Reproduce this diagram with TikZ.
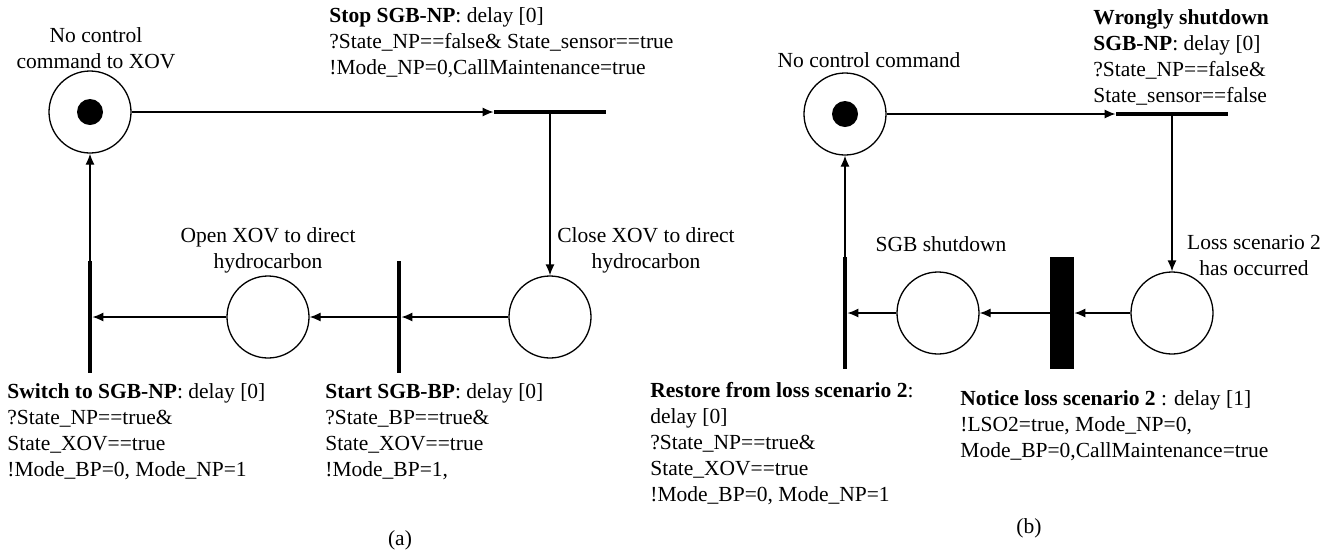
\documentclass[tikz,border=0pt]{standalone}
\usepackage{fontspec}
\setmainfont{Liberation Serif}
\usetikzlibrary{arrows.meta,positioning}

\begin{document}
\begin{tikzpicture}[x=0.5pt,y=-0.5pt,
    font=\fontsize{10.75pt}{13pt}\selectfont,
    pnplace/.style={circle,draw,line width=0.65pt,minimum size=41pt,inner sep=0pt},
    pntoken/.style={circle,fill=black,minimum size=13pt,inner sep=0pt},
    hbar/.style={rectangle,fill=black,minimum width=56pt,minimum height=2pt,inner sep=0pt},
    vbar/.style={rectangle,fill=black,minimum width=2pt,minimum height=56pt,inner sep=0pt},
    wbar/.style={rectangle,fill=black,minimum width=12pt,minimum height=56pt,inner sep=0pt},
    flow/.style={line width=0.65pt,-{Latex[length=5.5pt,width=4.5pt]}},
    txt/.style={inner sep=0pt,align=left,anchor=north west},
    ctxt/.style={inner sep=0pt,align=center}]
    \useasboundingbox (0,0) rectangle (1333,553);

    % (a) switching between SGB-NP and SGB-BP
    \node[pnplace] (p1) at (90,112) {};
    \node[pntoken] (k1) at (p1) {};
    \node[hbar] (t1) at (550,112) {};
    \node[pnplace] (p2) at (550,317) {};
    \node[vbar] (t2) at (399,317) {};
    \node[pnplace] (p3) at (268,317) {};
    \node[vbar] (t3) at (90,317) {};

    \draw[flow] (p1) -- (t1);
    \draw[flow] (t1) -- (p2);
    \draw[flow] (p2) -- (t2);
    \draw[flow] (t2) -- (p3);
    \draw[flow] (p3) -- (t3);
    \draw[flow] (t3) -- (p1);

    \node[ctxt] (lp1) at (96,48) {No control\\command to XOV};
    \node[txt] (lt1) at (329,7) {\textbf{Stop SGB-NP}: delay [0]\\?State\_NP==false\& State\_sensor==true\\!Mode\_NP=0,CallMaintenance=true};
    \node[ctxt] (lp2) at (646,250) {Close XOV to direct\\hydrocarbon};
    \node[ctxt] (lp3) at (268,250) {Open XOV to direct\\hydrocarbon};
    \node[txt] (lt3) at (7,383) {\textbf{Switch to SGB-NP}: delay [0]\\?State\_NP==true\&\\State\_XOV==true\\!Mode\_BP=0, Mode\_NP=1};
    \node[txt] (lt2) at (325,383) {\textbf{Start SGB-BP}: delay [0]\\?State\_BP==true\&\\State\_XOV==true\\!Mode\_BP=1,};
    \node (capa) at (400,540) {(a)};

    % (b) loss scenario 2
    \node[pnplace] (p4) at (845,114) {};
    \node[pntoken] (k4) at (p4) {};
    \node[hbar] (t4) at (1172,114) {};
    \node[pnplace] (p5) at (1172,313) {};
    \node[wbar] (t5) at (1062,313) {};
    \node[pnplace] (p6) at (938,313) {};
    \node[vbar] (t6) at (845,313) {};

    \draw[flow] (p4) -- (t4);
    \draw[flow] (t4) -- (p5);
    \draw[flow] (p5) -- (t5);
    \draw[flow] (t5) -- (p6);
    \draw[flow] (p6) -- (t6);
    \draw[flow] (t6) -- (p4);

    \node[ctxt] (lp4) at (869,60) {No control command};
    \node[txt] (lt4) at (1093,9) {\textbf{Wrongly shutdown}\\\textbf{SGB-NP}: delay [0]\\?State\_NP==false\&\\State\_sensor==false};
    \node[ctxt] (lp5) at (1254,255) {Loss scenario 2\\has occurred};
    \node[ctxt] (lp6) at (941,244) {SGB shutdown};
    \node[txt] (lt6) at (650,382) {\textbf{Restore from loss scenario 2}:\\delay [0]\\?State\_NP==true\&\\State\_XOV==true\\!Mode\_BP=0, Mode\_NP=1};
    \node[txt] (lt5) at (960,390) {\textbf{Notice loss scenario 2} : delay [1]\\!LSO2=true, Mode\_NP=0,\\Mode\_BP=0,CallMaintenance=true};
    \node (capb) at (1029,528) {(b)};
\end{tikzpicture}
\end{document}
